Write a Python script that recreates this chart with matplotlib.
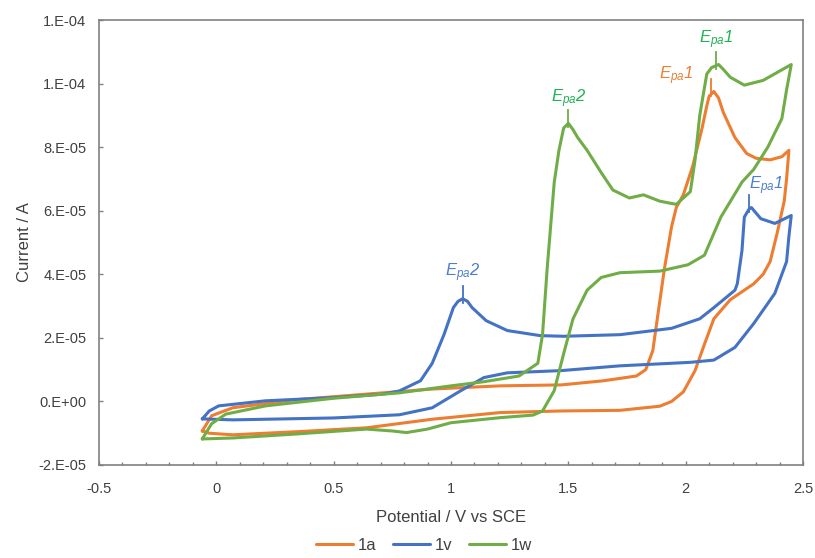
import numpy as np
import matplotlib.pyplot as plt
from matplotlib.ticker import MultipleLocator

plt.rcParams['font.family'] = ['Liberation Sans', 'DejaVu Sans']
plt.rcParams['mathtext.fontset'] = 'custom'
plt.rcParams['mathtext.it'] = 'Liberation Sans:italic'
plt.rcParams['mathtext.rm'] = 'Liberation Sans'

# current values in units of 1e-5 A, each loop: forward scan then reverse
x_1a = [-0.06, -0.02, 0.07, 0.33, 0.64, 0.92, 1.21, 1.47, 1.65, 1.79, 1.83, 1.86,
        1.88, 1.91, 1.94, 1.96, 1.99, 2.03, 2.05, 2.07, 2.09, 2.10, 2.12, 2.14,
        2.16, 2.21, 2.26, 2.30, 2.36, 2.41, 2.44,
        2.43, 2.42, 2.39, 2.36, 2.33, 2.29, 2.24, 2.19, 2.12, 2.08, 2.04, 1.99,
        1.94, 1.89, 1.72, 1.47, 1.21, 0.92, 0.64, 0.35, 0.07, -0.03, -0.06]
y_1a = [-0.93, -0.45, -0.2, 0.05, 0.23, 0.39, 0.49, 0.52, 0.65, 0.8, 1.0, 1.6,
        2.65, 4.2, 5.5, 6.1, 6.5, 7.4, 8.0, 8.6, 9.3, 9.6, 9.75, 9.55,
        9.1, 8.3, 7.8, 7.65, 7.6, 7.7, 7.9,
        7.0, 6.3, 5.3, 4.4, 4.0, 3.7, 3.45, 3.2, 2.6, 1.8, 0.97, 0.3,
        0.0, -0.15, -0.28, -0.3, -0.35, -0.56, -0.83, -0.95, -1.05, -1.0, -0.93]

x_1v = [-0.06, -0.03, 0.01, 0.21, 0.5, 0.71, 0.78, 0.87, 0.92, 0.97, 1.01, 1.03,
        1.05, 1.07, 1.09, 1.15, 1.24, 1.38, 1.48, 1.72, 1.94, 2.06, 2.12, 2.21,
        2.22, 2.24, 2.25, 2.27, 2.28, 2.32, 2.38, 2.45,
        2.44, 2.43, 2.38, 2.29, 2.21, 2.12, 2.02, 1.72, 1.47, 1.24, 1.14, 1.04,
        0.92, 0.78, 0.5, 0.07, -0.06]
y_1v = [-0.55, -0.3, -0.14, 0.02, 0.12, 0.23, 0.33, 0.65, 1.2, 2.1, 2.95, 3.15,
        3.23, 3.15, 2.95, 2.54, 2.23, 2.07, 2.05, 2.1, 2.3, 2.6, 2.95, 3.5,
        3.7, 4.75, 5.8, 6.05, 6.1, 5.75, 5.6, 5.85,
        5.2, 4.4, 3.4, 2.45, 1.7, 1.3, 1.23, 1.12, 0.97, 0.9, 0.75, 0.33,
        -0.2, -0.42, -0.52, -0.58, -0.55]

x_1w = [-0.06, -0.02, 0.04, 0.21, 0.5, 0.78, 1.0, 1.14, 1.29, 1.37, 1.39, 1.41,
        1.44, 1.46, 1.48, 1.50, 1.52, 1.54, 1.58, 1.64, 1.69, 1.76, 1.82, 1.89,
        1.96, 2.02, 2.04, 2.06, 2.09, 2.11, 2.14, 2.16, 2.19, 2.25, 2.33, 2.45,
        2.43, 2.41, 2.35, 2.29, 2.24, 2.15, 2.08, 2.01, 1.89, 1.72, 1.64, 1.58,
        1.52, 1.48, 1.44, 1.39, 1.35, 1.21, 1.0, 0.9, 0.81, 0.75, 0.64, 0.35,
        0.07, -0.06]
y_1w = [-1.18, -0.7, -0.4, -0.14, 0.1, 0.27, 0.49, 0.62, 0.8, 1.2, 2.1, 4.2,
        6.9, 7.9, 8.6, 8.75, 8.55, 8.3, 7.9, 7.2, 6.65, 6.4, 6.5, 6.3,
        6.2, 6.6, 7.6, 9.0, 10.3, 10.5, 10.6, 10.45, 10.2, 9.95, 10.1, 10.6,
        9.8, 8.9, 8.0, 7.3, 6.9, 5.8, 4.6, 4.3, 4.1, 4.05, 3.9, 3.5,
        2.6, 1.5, 0.34, -0.3, -0.43, -0.51, -0.67, -0.87, -0.98, -0.93, -0.87, -1.02,
        -1.15, -1.18]

# peak labels: (x, y in 1e-5 A, text, series key, text offset in px)
peaks = [(1.05, 3.23, '2', 'v', (0, 26)),
         (1.50, 8.75, '2', 'w', (0, 25)),
         (2.11, 9.75, '1', 'a', (-35, 16)),
         (2.13, 10.6, '1', 'w', (0, 25)),
         (2.27, 6.1, '1', 'v', (17, 22))]

line_col = {'a': '#ED7D31', 'v': '#4472C4', 'w': '#70AD47'}
text_col = {'a': '#ED7D31', 'v': '#4C7DD0', 'w': '#1DB352'}

fig = plt.figure(figsize=(8.15, 5.58), dpi=100)
ax = fig.add_axes([99/815, 1-465/558, (803-99)/815, (465-20)/558])

ymin, ymax = -2e-5, 1.2e-4
scale = 1e-5
px_y = (ymax - ymin) / 445.0   # data units per pixel vertically

for xs, ys, key, lab in [(x_1a, y_1a, 'a', '1a'), (x_1v, y_1v, 'v', '1v'),
                         (x_1w, y_1w, 'w', '1w')]:
    ax.plot(np.array(xs), np.array(ys)*scale, color=line_col[key], lw=2.2,
            label=lab, solid_joinstyle='round', solid_capstyle='round')

for px, py, num, key, off in peaks:
    yp = py*scale
    ax.plot([px, px], [yp - 4*px_y, yp + 13*px_y], color=line_col[key], lw=1.3)
    ax.annotate(r'$E_{pa}$' + num, xy=(px, yp),
                xytext=(off[0]*0.72, off[1]*0.72), textcoords='offset points',
                ha='center', va='center', fontsize=12, color=text_col[key],
                style='italic')

ax.set_xlim(-0.5, 2.5)
ax.set_ylim(ymin, ymax)
ax.set_xticks([-0.5, 0, 0.5, 1, 1.5, 2, 2.5])
ax.set_xticklabels(['-0.5', '0', '0.5', '1', '1.5', '2', '2.5'])
ax.xaxis.set_minor_locator(MultipleLocator(0.1))
yt = [-2e-5, 0, 2e-5, 4e-5, 6e-5, 8e-5, 1e-4, 1.2e-4]
ax.set_yticks(yt)
ax.set_yticklabels(['-2.E-05', '0.E+00', '2.E-05', '4.E-05', '6.E-05', '8.E-05',
                    '1.E-04', '1.E-04'])
ax.tick_params(axis='both', which='major', direction='in', length=3, width=1,
               color='#808080', labelsize=10.5, labelcolor='#404040')
ax.tick_params(axis='x', which='minor', direction='in', length=2, width=1,
               color='#808080')
ax.tick_params(axis='x', pad=12)
ax.tick_params(axis='y', pad=9)
for s in ax.spines.values():
    s.set_color('#808080')
    s.set_linewidth(1.2)

ax.set_xlabel('Potential / V vs SCE', fontsize=12, color='#404040', labelpad=10)
ax.set_ylabel('Current / A', fontsize=12, color='#404040', labelpad=5)

fig.legend(loc='center', bbox_to_anchor=(424/815, 1-545/558), ncol=3,
           frameon=False, fontsize=12, handlelength=2.2, columnspacing=1.0,
           handletextpad=0.3, labelcolor='#404040')

fig.savefig('out.png', dpi=100)
